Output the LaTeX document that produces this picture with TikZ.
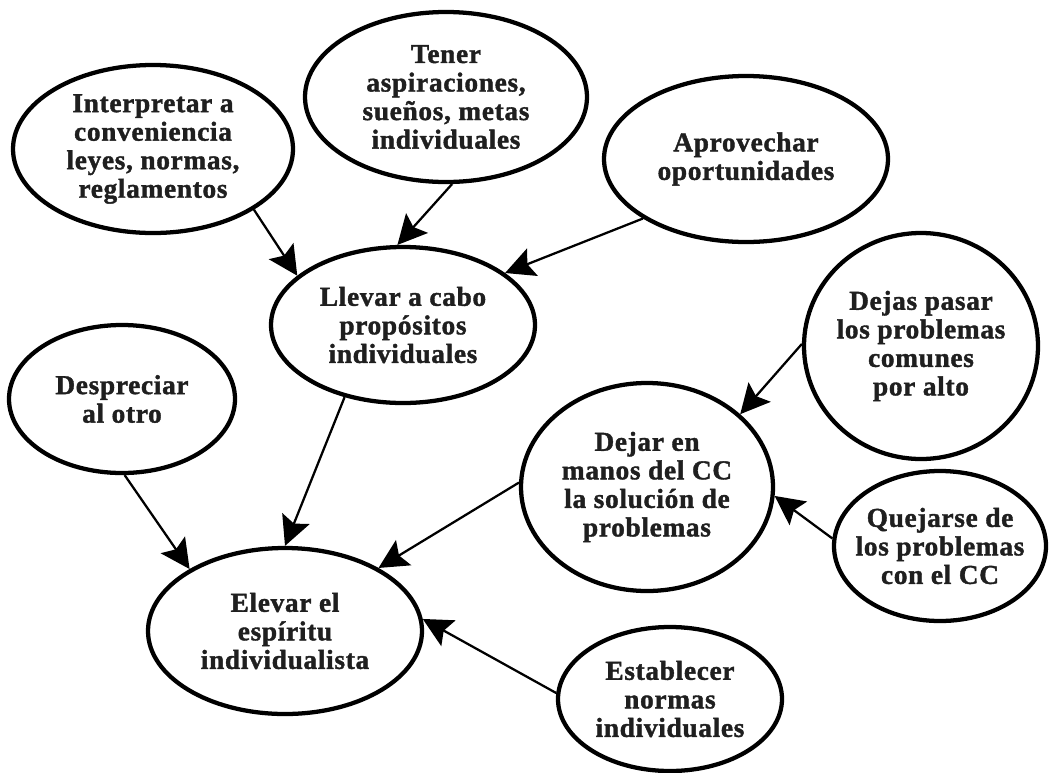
\documentclass[tikz,border=0pt]{standalone}
\usepackage{fontspec}
\newfontfamily\diag{Liberation Serif}[LetterSpace=2.5,FakeBold=1.4]
\usetikzlibrary{arrows.meta,shapes.geometric}
\begin{document}
\begin{tikzpicture}[x=0.75pt,y=-0.75pt,
  bub/.style={ellipse, draw=black, line width=3.2pt, inner sep=-18pt, align=center,
    font=\diag\bfseries\fontsize{20.5}{21.4}\selectfont, text=black!88},
  arr/.style={line width=1.7pt, -{Stealth[length=22pt,width=22pt,inset=4pt]}}]
\useasboundingbox (0,0) rectangle (1050,772);

\node[bub, minimum width=210pt, minimum height=126pt] (interp) at (153,149)
  {Interpretar a\\conveniencia\\leyes, normas,\\reglamentos};
\node[bub, minimum width=211.5pt, minimum height=127.5pt] (tener) at (446,97)
  {Tener\\aspiraciones,\\sueños, metas\\individuales};
\node[bub, minimum width=213pt, minimum height=124.5pt] (aprov) at (746,159)
  {Aprovechar\\oportunidades};
\node[bub, minimum width=198pt, minimum height=117pt] (llevar) at (403,325)
  {Llevar a cabo\\propósitos\\individuales};
\node[bub, minimum width=169.5pt, minimum height=111pt] (despr) at (122,399)
  {Despreciar\\al otro};
\node[bub, minimum width=175.5pt, minimum height=169.5pt] (dejas) at (921,346)
  {Dejas pasar\\los problemas\\comunes\\por alto};
\node[bub, minimum width=189pt, minimum height=156pt] (dejar) at (647,487)
  {Dejar en\\manos del CC\\la solución de\\problemas};
\node[bub, minimum width=159pt, minimum height=112.5pt] (queja) at (940,546)
  {Quejarse de\\los problemas\\con el CC};
\node[bub, minimum width=205.5pt, minimum height=124.5pt] (elevar) at (285,631)
  {Elevar el\\espíritu\\individualista};
\node[bub, minimum width=168pt, minimum height=108pt] (estab) at (670,699)
  {Establecer\\normas\\individuales};

\draw[arr] (interp.-31) -- (llevar.155);
\draw[arr] (tener.-86) -- (llevar.94);
\draw[arr] (aprov.-150) -- (llevar.27);
\draw[arr] (llevar.-129) -- (elevar.90);
\draw[arr] (despr.-88) -- (elevar.147);
\draw[arr] (dejar.178) -- (elevar.34);
\draw[arr] (estab.177) -- (elevar.5);
\draw[arr] (dejas.179) -- (dejar.38);
\draw[arr] (queja.176) -- (dejar.-4);
\end{tikzpicture}
\end{document}
